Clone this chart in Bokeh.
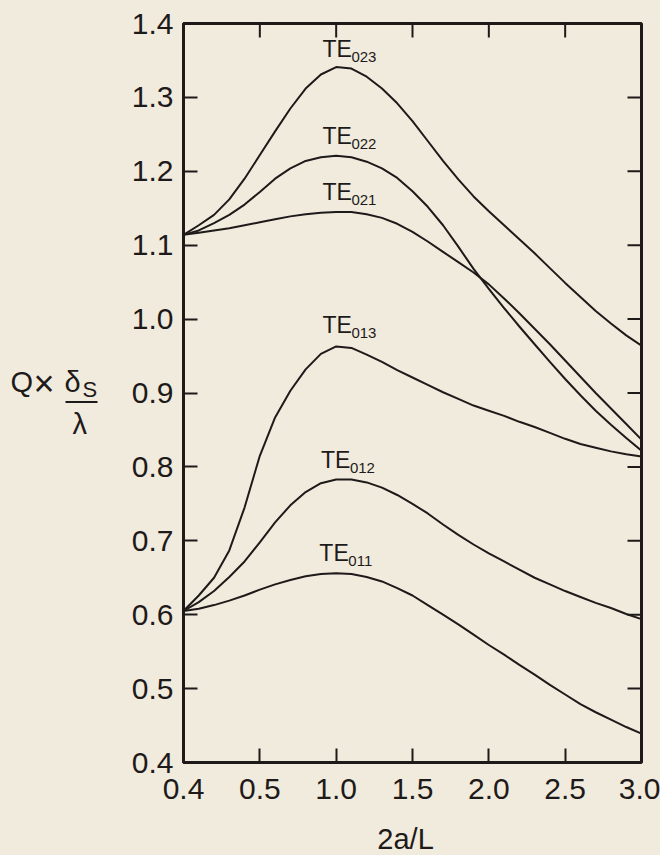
from bokeh.plotting import figure
from bokeh.layouts import row, column
from bokeh.models import FixedTicker, PrintfTickFormatter, ColumnDataSource, Range1d
from bokeh.core.properties import value
from bokeh.embed import file_html
from bokeh.resources import INLINE

# ---- data (x in units of the 2a/L axis, y = Q x delta_s / lambda) ----
x_vals = [0.0, 0.1, 0.2, 0.3, 0.4, 0.5, 0.6, 0.7, 0.8, 0.9, 1.0,
          1.1, 1.2, 1.3, 1.4, 1.5, 1.6, 1.7, 1.8, 1.9, 2.0,
          2.1, 2.2, 2.3, 2.4, 2.5, 2.6, 2.7, 2.8, 2.9, 3.0]

te023 = [1.114, 1.127, 1.141, 1.162, 1.190, 1.222, 1.254, 1.285, 1.312, 1.331, 1.341,
         1.339, 1.328, 1.312, 1.292, 1.268, 1.241, 1.214, 1.189, 1.166, 1.146,
         1.127, 1.108, 1.089, 1.069, 1.049, 1.030, 1.011, 0.994, 0.978, 0.964]
te022 = [1.114, 1.120, 1.130, 1.141, 1.155, 1.172, 1.190, 1.204, 1.214, 1.219, 1.221,
         1.219, 1.213, 1.204, 1.191, 1.173, 1.152, 1.127, 1.098, 1.068, 1.041,
         1.015, 0.990, 0.966, 0.942, 0.919, 0.897, 0.876, 0.857, 0.839, 0.822]
te021 = [1.114, 1.117, 1.120, 1.123, 1.127, 1.131, 1.135, 1.139, 1.142, 1.144, 1.145,
         1.145, 1.142, 1.137, 1.129, 1.118, 1.105, 1.091, 1.077, 1.063, 1.047,
         1.028, 1.008, 0.987, 0.966, 0.944, 0.922, 0.900, 0.879, 0.858, 0.837]
te013 = [0.605, 0.626, 0.650, 0.687, 0.745, 0.815, 0.867, 0.903, 0.932, 0.953, 0.963,
         0.961, 0.952, 0.942, 0.931, 0.921, 0.911, 0.901, 0.892, 0.883, 0.876,
         0.869, 0.861, 0.854, 0.846, 0.838, 0.831, 0.826, 0.821, 0.817, 0.814]
te012 = [0.605, 0.617, 0.632, 0.651, 0.672, 0.698, 0.725, 0.748, 0.766, 0.778, 0.783,
         0.783, 0.779, 0.772, 0.762, 0.750, 0.737, 0.722, 0.708, 0.695, 0.683,
         0.672, 0.661, 0.650, 0.641, 0.632, 0.624, 0.616, 0.609, 0.601, 0.594]
te011 = [0.605, 0.608, 0.613, 0.619, 0.626, 0.634, 0.641, 0.647, 0.652, 0.655, 0.656,
         0.655, 0.651, 0.645, 0.636, 0.626, 0.613, 0.600, 0.587, 0.573, 0.559,
         0.546, 0.532, 0.519, 0.505, 0.492, 0.479, 0.468, 0.458, 0.448, 0.439]

mode_names = ["TE", "TE", "TE", "TE", "TE", "TE"]
mode_subs = ["023", "022", "021", "013", "012", "011"]
label_x = [0.91, 0.91, 0.91, 0.91, 0.90, 0.89]
label_y = [1.3655, 1.2481, 1.1716, 0.9916, 0.8098, 0.6839]

x_ticks = [0.0, 0.5, 1.0, 1.5, 2.0, 2.5, 3.0]
x_tick_labels = ["0.4", "0.5", "1.0", "1.5", "2.0", "2.5", "3.0"]
y_ticks = [0.4, 0.5, 0.6, 0.7, 0.8, 0.9, 1.0, 1.1, 1.2, 1.3, 1.4]

x_title = "2a/L"

BG = "#F0EBDC"
INK = "#1E1A1A"
FONT = "Liberation Sans"

X0, X1 = 0.0, 3.0
Y0, Y1 = 0.4, 1.4
PW, PH = 560, 817
BL, BR, BT, BB = 83, 19, 23, 55
TICK = 14

p = figure(width=PW, height=PH, output_backend="svg", toolbar_location=None,
           x_range=Range1d(X0, X1), y_range=Range1d(Y0, Y1),
           min_border_left=BL, min_border_right=BR, min_border_top=BT,
           min_border_bottom=BB)
p.background_fill_color = BG
p.border_fill_color = BG
p.outline_line_color = INK
p.outline_line_width = 3
p.xgrid.visible = False
p.ygrid.visible = False

for ys in [te023, te022, te021, te013, te012, te011]:
    p.line(x_vals, ys, line_color=INK, line_width=2, line_join="round")


def style_axis(ax):
    ax.axis_line_color = None
    ax.major_tick_line_color = INK
    ax.major_tick_line_width = 2
    ax.major_tick_in = TICK
    ax.major_tick_out = 0
    ax.minor_tick_line_color = None
    ax.major_label_text_font = FONT
    ax.major_label_text_color = INK
    ax.major_label_text_font_size = "30px"


xa = p.xaxis[0]
xa.ticker = FixedTicker(ticks=x_ticks)
xa.major_label_overrides = {t: l for t, l in zip(x_ticks, x_tick_labels)}
style_axis(xa)
xa.major_label_standoff = 16

ya = p.yaxis[0]
ya.ticker = FixedTicker(ticks=y_ticks)
ya.formatter = PrintfTickFormatter(format="%.1f")
style_axis(ya)
ya.major_label_standoff = 10

# inward ticks on the top and right edges of the frame
frame_w = PW - BL - BR
frame_h = PH - BT - BB
dx = TICK * (X1 - X0) / frame_w
dy = TICK * (Y1 - Y0) / frame_h
inner_x = x_ticks[1:-1]
inner_y = y_ticks[1:-1]
p.segment(x0=inner_x, y0=[Y1] * len(inner_x), x1=inner_x, y1=[Y1 - dy] * len(inner_x),
          line_color=INK, line_width=2)
p.segment(x0=[X1] * len(inner_y), y0=inner_y, x1=[X1 - dx] * len(inner_y), y1=inner_y,
          line_color=INK, line_width=2)

# curve labels
src = ColumnDataSource(dict(x=label_x, y=label_y, name=mode_names, sub=mode_subs))
p.text(x="x", y="y", text="name", source=src, text_font=value(FONT),
       text_font_size="23px", text_color=INK, text_align="left",
       text_baseline="middle")
p.text(x="x", y="y", text="sub", source=src, text_font=value(FONT),
       text_font_size="15px", text_color=INK, text_align="left",
       text_baseline="middle", x_offset=29, y_offset=8)

# ---- y axis title panel (pixel coordinates, y downward) ----
LW = 660 - PW
left = figure(width=LW, height=855, output_backend="svg", toolbar_location=None,
              x_range=Range1d(0, LW), y_range=Range1d(855, 0),
              x_axis_location=None, y_axis_location=None, min_border=0)
left.background_fill_color = BG
left.border_fill_color = BG
left.outline_line_color = None
left.grid.visible = False


def t(fig, x, y, s, size):
    fig.text(x=[x], y=[y], text=[s], text_font=value(FONT), text_font_size=size,
             text_color=INK, text_align="left", text_baseline="middle")


t(left, 10, 381, "Q", "29px")
t(left, 33, 383, "×", "36px")
t(left, 64, 381, "δ", "29px")
t(left, 82, 389, "S", "22px")
left.segment(x0=[65], y0=[401.5], x1=[97], y1=[401.5], line_color=INK, line_width=2)
t(left, 72, 423, "λ", "29px")

# ---- x axis title panel ----
BH = 855 - PH
bottom = figure(width=PW, height=BH, output_backend="svg", toolbar_location=None,
                x_range=Range1d(LW, 660), y_range=Range1d(855, PH),
                x_axis_location=None, y_axis_location=None, min_border=0)
bottom.background_fill_color = BG
bottom.border_fill_color = BG
bottom.outline_line_color = None
bottom.grid.visible = False
t(bottom, 337, 838.5, x_title, "29px")

col = column(p, bottom, spacing=0)
layout = row(left, col, spacing=0)
for lo in (col, layout):
    lo.styles = {"background-color": BG}
open("out.html", "w").write(file_html(layout, INLINE))
